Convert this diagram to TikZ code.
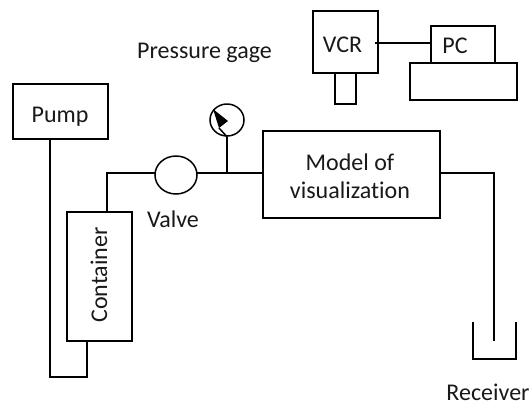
\documentclass[tikz,border=0pt]{standalone}
\usepackage{fontspec}
\usetikzlibrary{shapes.geometric}
\setmainfont[Ligatures=NoCommon]{Carlito}
\tikzset{
  every node/.style={font=\fontsize{24}{28}\selectfont,text=black!90},
  pipe/.style={draw=black,line width=1.5pt},
  unitbox/.style={draw=black,line width=1.5pt,fill=white,inner sep=0pt,anchor=north west},
  roundel/.style={draw=black,line width=1.5pt,ellipse,inner sep=0pt},
  lbl/.style={inner sep=0pt,anchor=base}
}
\begin{document}
\begin{tikzpicture}[x=1pt,y=-1pt]
\useasboundingbox (0,0) rectangle (529,405);
\node[unitbox,minimum width=95pt,minimum height=55pt] (pump) at (12,83) {};
\node[lbl] (pumpl) at (60,122) {Pump};
\node[unitbox,minimum width=65pt,minimum height=129pt] (cont) at (66,211) {};
\node[lbl,rotate=90] (contl) at (107,275) {Container};
\node[roundel,minimum width=42pt,minimum height=38pt] (valve) at (176,175) {};
\node[unitbox,minimum width=177pt,minimum height=87pt] (model) at (262,130) {};
\node[lbl] (modl1) at (350,170) {Model of};
\node[lbl] (modl2) at (350,198) {visualization};
\node[roundel,minimum width=34pt,minimum height=32pt] (gauge) at (227,120) {};
\node[unitbox,minimum width=65pt,minimum height=62pt] (vcr) at (312,10) {};
\node[lbl] (vcrl) at (342.5,52) {VCR};
\node[unitbox,minimum width=21pt,minimum height=31pt] (tape) at (334,72) {};
\node[unitbox,minimum width=64pt,minimum height=37pt] (pc) at (430,25) {};
\node[lbl] (pcl) at (455,53) {PC};
\node[unitbox,minimum width=107pt,minimum height=37pt] (base) at (409,62) {};
\node[lbl] (pg) at (204.5,58) {Pressure gage};
\node[lbl] (vl) at (173,227) {Valve};
\node[lbl] (rl) at (488,400) {Receiver};
\coordinate (tee) at (227,173);
\coordinate (b1) at (50,377);
\coordinate (b2) at (87,377);
\coordinate (c1) at (107,173);
\coordinate (r1) at (494,173);
\coordinate (r2) at (494,341);
\draw[pipe] (50,138) -- (b1) -- (b2) -- (87,340);
\draw[pipe] (107,211) -- (c1) -- (155,173);
\draw[pipe] (197,173) -- (262,173);
\draw[pipe] (tee) -- (gauge.south);
\draw[pipe] (439,173) -- (r1) -- (r2);
\draw[pipe] (375,43) -- (430,43);
\draw[pipe] (473,322) -- (473,359) -- (516,359) -- (516,322);
\draw[pipe] (gauge.south) -- (219,128);
\fill[black] (213,109) -- (228,121) -- (219,128) -- cycle;
\end{tikzpicture}
\end{document}
